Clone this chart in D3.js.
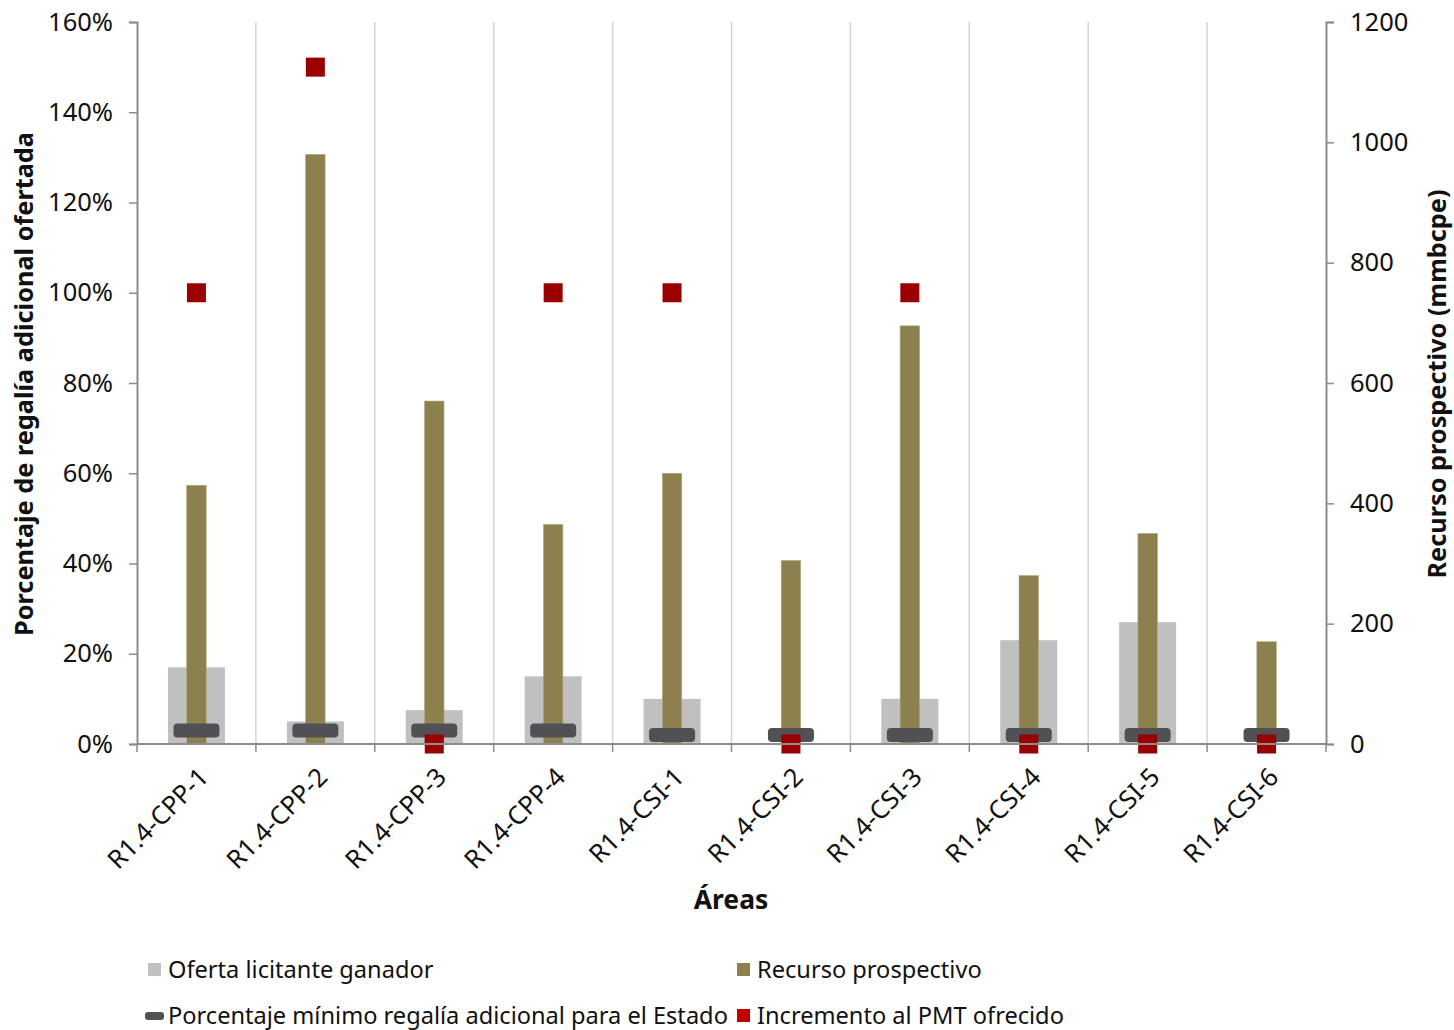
<!DOCTYPE html>
<html>
<head>
<meta charset="utf-8">
<script src="https://cdn.jsdelivr.net/npm/d3@7"></script>
<style>
  html, body { margin: 0; padding: 0; background: #fff; }
  svg { display: block; }
</style>
</head>
<body>
<svg id="chart" width="1454" height="1030"></svg>
<script>
// Bid areas of Round 1.4
const areas = ["R1.4-CPP-1", "R1.4-CPP-2", "R1.4-CPP-3", "R1.4-CPP-4", "R1.4-CSI-1",
               "R1.4-CSI-2", "R1.4-CSI-3", "R1.4-CSI-4", "R1.4-CSI-5", "R1.4-CSI-6"];
// Winning bidder offer (additional royalty, fraction)
const ofertaGanador = [0.17, 0.05, 0.075, 0.15, 0.10, 0, 0.10, 0.23, 0.27, 0];
// Prospective resource (mmbcpe, right axis)
const recursoProspectivo = [430, 980, 570, 365, 450, 305, 695, 280, 350, 170];
// Minimum additional royalty for the State (fraction)
const minimoEstado = [0.03, 0.03, 0.03, 0.03, 0.02, 0.02, 0.02, 0.02, 0.02, 0.02];
// Increase to the minimum work program offered (fraction)
const incrementoPMT = [1.0, 1.5, 0, 1.0, 1.0, 0, 1.0, 0, 0, 0];

const leftTicks = [0, 0.2, 0.4, 0.6, 0.8, 1.0, 1.2, 1.4, 1.6];
const rightTicks = [0, 200, 400, 600, 800, 1000, 1200];

const C = {
  gray: "#c0c0c0",
  olive: "#8b804e",
  dark: "#505055",
  red: "#9a0000",
  redLegend: "#c00000",
  axis: "#8c8c8c",
  grid: "#d4d4d4"
};

const svg = d3.select("#chart");
const m = { left: 137, right: 1326, top: 22, bottom: 744 };

const x = d3.scaleBand().domain(areas).range([m.left, m.right]).paddingInner(0).paddingOuter(0);
const yL = d3.scaleLinear().domain([0, 1.6]).range([m.bottom, m.top]);
const yR = d3.scaleLinear().domain([0, 1200]).range([m.bottom, m.top]);
const bw = x.bandwidth();
const cx = d => x(d) + bw / 2;

// vertical separators between categories
svg.append("g").selectAll("line")
  .data(areas.slice(1))
  .join("line")
  .attr("x1", d => x(d)).attr("x2", d => x(d))
  .attr("y1", m.top).attr("y2", m.bottom)
  .attr("stroke", C.grid).attr("stroke-width", 1.5);

const rows = areas.map((a, i) => ({
  a, of: ofertaGanador[i], rec: recursoProspectivo[i], min: minimoEstado[i], inc: incrementoPMT[i]
}));

// winning offer bars
svg.append("g").selectAll("rect")
  .data(rows.filter(r => r.of > 0))
  .join("rect")
  .attr("x", r => cx(r.a) - 28.5).attr("width", 57)
  .attr("y", r => yL(r.of)).attr("height", r => yL(0) - yL(r.of))
  .attr("fill", C.gray);

// prospective resource bars (right axis)
svg.append("g").selectAll("rect")
  .data(rows)
  .join("rect")
  .attr("x", r => cx(r.a) - 9.75).attr("width", 19.5)
  .attr("y", r => yR(r.rec)).attr("height", r => yR(0) - yR(r.rec))
  .attr("fill", C.olive).attr("stroke", "#b3ab82").attr("stroke-width", 0.6);

// minimum royalty markers
svg.append("g").selectAll("rect")
  .data(rows)
  .join("rect")
  .attr("x", r => cx(r.a) - 23).attr("width", 46)
  .attr("y", r => yL(r.min) - 7).attr("height", 14)
  .attr("rx", 4).attr("ry", 4)
  .attr("fill", C.dark);

// PMT increase markers
svg.append("g").selectAll("rect")
  .data(rows)
  .join("rect")
  .attr("x", r => cx(r.a) - 9.5).attr("width", 19)
  .attr("y", r => yL(r.inc) - 9.5).attr("height", 19)
  .attr("fill", C.red);

// axes
const tickFont = "'Noto Sans', 'Open Sans', sans-serif";
const styleAxis = g => {
  g.selectAll(".domain").attr("stroke", C.axis).attr("stroke-width", 2);
  g.selectAll(".tick line").attr("stroke", C.axis).attr("stroke-width", 1.5);
  g.selectAll(".tick text").attr("fill", "#111").style("font-family", tickFont).style("font-size", "25.5px");
};

svg.append("g")
  .attr("transform", `translate(${m.left},0)`)
  .call(d3.axisLeft(yL).tickValues(leftTicks).tickFormat(d => Math.round(d * 100) + "%").tickSize(8).tickSizeOuter(8).tickPadding(16))
  .call(styleAxis);

svg.append("g")
  .attr("transform", `translate(${m.right},0)`)
  .call(d3.axisRight(yR).tickValues(rightTicks).tickFormat(d3.format("d")).tickSize(8).tickSizeOuter(8).tickPadding(16))
  .call(styleAxis);

// category axis with boundary ticks
const xAxisG = svg.append("g").attr("transform", `translate(0,${m.bottom})`);
xAxisG.append("line")
  .attr("x1", m.left).attr("x2", m.right)
  .attr("stroke", C.axis).attr("stroke-width", 2);
xAxisG.selectAll("line.b")
  .data(areas.map(a => x(a)).concat([m.right]))
  .join("line").attr("class", "b")
  .attr("x1", d => d).attr("x2", d => d)
  .attr("y1", 0).attr("y2", 8)
  .attr("stroke", C.axis).attr("stroke-width", 1.5);
xAxisG.selectAll("text")
  .data(areas)
  .join("text")
  .attr("transform", d => `translate(${cx(d) + 1},${22}) rotate(-45)`)
  .attr("text-anchor", "end")
  .attr("dy", "0.7em")
  .style("font-family", tickFont).style("font-size", "25.5px")
  .attr("fill", "#111")
  .text(d => d);

// titles
const titleFont = "'Noto Sans', 'Open Sans', sans-serif";
svg.append("text")
  .attr("transform", `translate(33,384) rotate(-90)`)
  .attr("text-anchor", "middle")
  .style("font-family", titleFont).style("font-weight", "bold").style("font-size", "25.3px")
  .attr("fill", "#111")
  .text("Porcentaje de regalía adicional ofertada");
svg.append("text")
  .attr("transform", `translate(1446,384) rotate(-90)`)
  .attr("text-anchor", "middle")
  .style("font-family", titleFont).style("font-weight", "bold").style("font-size", "25.3px")
  .attr("fill", "#111")
  .text("Recurso prospectivo (mmbcpe)");
svg.append("text")
  .attr("x", 731).attr("y", 909)
  .attr("text-anchor", "middle")
  .style("font-family", titleFont).style("font-weight", "bold").style("font-size", "26.5px")
  .attr("fill", "#111")
  .text("Áreas");

// legend
const legendItems = [
  { label: "Oferta licitante ganador", x: 148, y: 970, kind: "sq", color: C.gray },
  { label: "Recurso prospectivo", x: 737, y: 970, kind: "sq", color: C.olive },
  { label: "Porcentaje mínimo regalía adicional para el Estado", x: 145, y: 1016, kind: "pill", color: C.dark },
  { label: "Incremento al PMT ofrecido", x: 737, y: 1016, kind: "sq", color: C.redLegend }
];
const lg = svg.append("g").selectAll("g").data(legendItems).join("g")
  .attr("transform", d => `translate(${d.x},${d.y})`);
lg.filter(d => d.kind === "sq").append("rect")
  .attr("x", 0).attr("y", -7).attr("width", 13).attr("height", 13)
  .attr("fill", d => d.color);
lg.filter(d => d.kind === "pill").append("rect")
  .attr("x", 0).attr("y", -4).attr("width", 19).attr("height", 8)
  .attr("rx", 3).attr("fill", d => d.color);
lg.append("text")
  .attr("x", d => d.kind === "pill" ? 23 : 20).attr("y", 0).attr("dy", "0.35em")
  .style("font-family", titleFont).style("font-size", "23.6px")
  .attr("fill", "#111")
  .text(d => d.label);
</script>
</body>
</html>
